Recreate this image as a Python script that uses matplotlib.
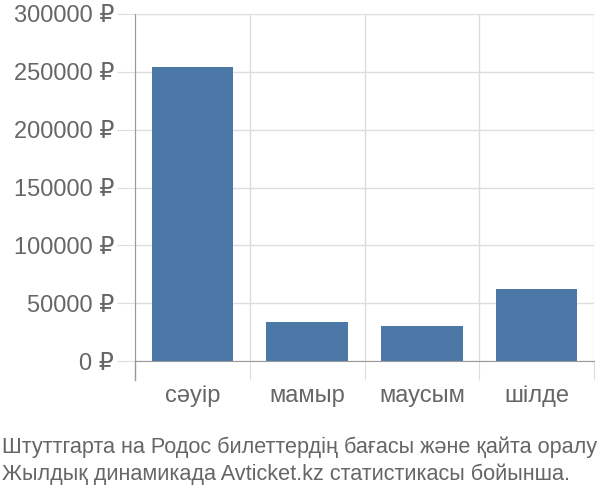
import matplotlib
matplotlib.use("Agg")
from matplotlib import pyplot as plt

months = ["сәуір", "мамыр", "маусым", "шілде"]
prices = [254000, 33700, 30300, 62300]
y_ticks = [0, 50000, 100000, 150000, 200000, 250000, 300000]
y_labels = [f"{v} ₽" for v in y_ticks]
caption = ("Штуттгарта на Родос билеттердің бағасы және қайта оралу\n"
           "Жылдық динамикада Avticket.kz статистикасы бойынша.")

plt.rcParams["font.family"] = ["Liberation Sans", "DejaVu Sans"]
text_color = "#666666"
grid_color = "#dddddd"

fig = plt.figure(figsize=(6, 5), dpi=100)
ax = fig.add_axes([135 / 600, 1 - 361 / 500, 459 / 600, 347 / 500])

x = range(len(months))
ax.bar(x, prices, width=0.71, color="#4c78a8", zorder=2)

ax.set_xlim(-0.5, len(months) - 0.5)
ax.set_ylim(0, 300000)

# horizontal grid + left ticks
ax.set_yticks(y_ticks)
ax.set_yticklabels(y_labels)
ax.yaxis.grid(True, color=grid_color, linewidth=1, zorder=0)
ax.tick_params(axis="y", length=13, color=grid_color, pad=2,
               labelsize=17, labelcolor=text_color)

# category boundaries as major ticks, names as minor ticks
ax.set_xticks([i - 0.5 for i in range(len(months) + 1)])
ax.set_xticklabels([])
ax.set_xticks(list(x), minor=True)
ax.set_xticklabels(months, minor=True)
ax.xaxis.grid(True, which="major", color=grid_color, linewidth=1, zorder=0)
ax.tick_params(axis="x", which="major", length=14, color=grid_color)
ax.tick_params(axis="x", which="minor", length=0, pad=17,
               labelsize=17, labelcolor=text_color)

for side in ["top", "right"]:
    ax.spines[side].set_visible(False)
ax.spines["left"].set_color("#999999")
ax.spines["bottom"].set_color("#999999")

# left spine extends below the zero line like the other dividers
ax.plot([-0.5, -0.5], [0, -0.055], color="#999999", linewidth=1, clip_on=False,
        transform=ax.get_xaxis_transform(), zorder=3)

fig.text(0.003, 1 - 461 / 500, caption, fontsize=15.6, color=text_color,
         ha="left", va="center", linespacing=1.33)

fig.savefig("out.png", dpi=100)
